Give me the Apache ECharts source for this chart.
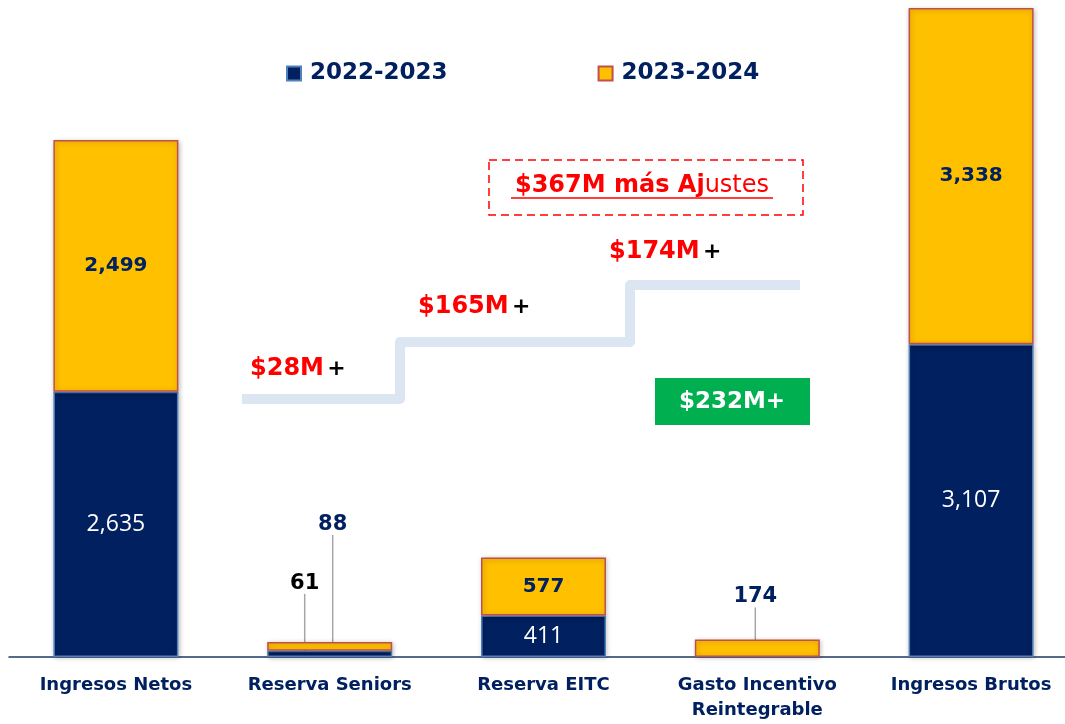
<!DOCTYPE html>
<html>
<head>
    <meta charset="utf-8"/>
    <title>Ingresos</title>
    <script src="https://cdn.jsdelivr.net/npm/echarts@6/dist/echarts.min.js"></script>
    <style>
        html, body { margin: 0; padding: 0; background: #fff; overflow: hidden; }
        /* el eje sigue un poco fuera de la ventana, como en la imagen original */
        #grafico { width: 1078px; height: 724px; }
    </style>
</head>
<body>
<div id="grafico"></div>
<script>
    // datos del grafico
    var categorias = ['Ingresos Netos', 'Reserva Seniors', 'Reserva EITC', 'Gasto Incentivo\nReintegrable', 'Ingresos Brutos'];
    var periodos = ['2022-2023', '2023-2024'];
    var valores2223 = [2635, 61, 411, null, 3107];
    var valores2324 = [2499, 88, 577, 174, 3338];
    // textos de los escalones
    var escalones = ['$28M', '$165M', '$174M'];
    var textoAjustes = ['$367M más Aj', 'ustes'];
    var textoVerde = '$232M+';

    var AZUL = '#002060';
    var AMARILLO = '#ffc000';
    var fuenteB = '"DejaVu Sans", sans-serif';

    function fmt(v) {
        return Number(v).toLocaleString('en-US');
    }

    // etiquetas que van fuera de la barra (serie-indice) -> desplazamiento
    var fuera = {
        '0-1': {dx: -25, dy: -53, color: '#000'},
        '1-1': {dx: 3, dy: -103, color: AZUL},
        '1-3': {dx: -2, dy: -28, color: AZUL}
    };

    function armarDatos(valores, serie) {
        return valores.map(function (v, i) {
            var f = fuera[serie + '-' + i];
            if (!f) return v;
            return {
                value: v,
                label: {
                    position: 'top', distance: 4, color: f.color,
                    fontFamily: fuenteB, fontWeight: 'bold', fontSize: 21
                },
                labelLine: {show: true, lineStyle: {color: '#a6a6a6', width: 1.5}}
            };
        });
    }

    var chart = echarts.init(document.getElementById('grafico'));

    var option = {
        animation: false,
        legend: {
            data: periodos,
            left: 281,
            top: 57,
            icon: 'rect',
            itemWidth: 14,
            itemHeight: 14,
            itemGap: 150,
            textStyle: {
                color: AZUL, fontFamily: fuenteB, fontWeight: 'bold', fontSize: 23,
                padding: [0, 0, 0, 4]
            }
        },
        grid: {left: 9, right: 0, top: 8, bottom: 67, containLabel: false},
        xAxis: {
            type: 'category',
            data: categorias,
            axisLine: {lineStyle: {color: '#1f3864', width: 1.5}},
            axisTick: {show: false},
            axisLabel: {
                color: AZUL, fontFamily: fuenteB, fontWeight: 'bold', fontSize: 18,
                lineHeight: 25, margin: 16, interval: 0
            }
        },
        yAxis: {
            type: 'value', min: 0, max: 6445, show: false,
            splitLine: {show: false}
        },
        series: [
            {
                name: periodos[0],
                type: 'bar',
                stack: 'total',
                barWidth: 125,
                data: armarDatos(valores2223, 0),
                itemStyle: {
                    color: AZUL, borderColor: '#4f81bd', borderWidth: 1.5,
                    shadowBlur: 5, shadowColor: 'rgba(0,0,0,0.25)', shadowOffsetX: 1, shadowOffsetY: 1
                },
                label: {
                    show: true, position: 'inside', color: '#fff',
                    fontFamily: '"Open Sans", sans-serif', fontSize: 23,
                    formatter: function (p) { return fmt(p.value); }
                },
                labelLayout: function (p) {
                    var f = fuera['0-' + p.dataIndex];
                    return f ? {dx: f.dx, dy: f.dy} : {};
                }
            },
            {
                name: periodos[1],
                type: 'bar',
                stack: 'total',
                barWidth: 125,
                data: armarDatos(valores2324, 1),
                itemStyle: {
                    color: AMARILLO, borderColor: '#c0504d', borderWidth: 1.5,
                    shadowBlur: 5, shadowColor: 'rgba(0,0,0,0.25)', shadowOffsetX: 1, shadowOffsetY: 1
                },
                label: {
                    show: true, position: 'inside', color: AZUL,
                    fontFamily: fuenteB, fontWeight: 'bold', fontSize: 20,
                    formatter: function (p) { return fmt(p.value); }
                },
                labelLayout: function (p) {
                    var f = fuera['1-' + p.dataIndex];
                    return f ? {dx: f.dx, dy: f.dy} : {};
                }
            }
        ],
        graphic: [
            // escalera
            {
                type: 'polyline',
                z: 1,
                shape: {points: [[242, 399], [400, 399], [400, 342], [630, 342], [630, 285], [800, 285]]},
                style: {stroke: '#dce6f2', lineWidth: 10, fill: null, lineJoin: 'round'}
            },
            {
                type: 'text', left: 250, top: 357,
                style: {
                    text: '{r|' + escalones[0] + '} {b|+}',
                    rich: {
                        r: {fill: '#ff0000', font: 'bold 24px ' + fuenteB},
                        b: {fill: '#000', font: 'bold 22px ' + fuenteB}
                    }
                }
            },
            {
                type: 'text', left: 418, top: 295,
                style: {
                    text: '{r|' + escalones[1] + '} {b|+}',
                    rich: {
                        r: {fill: '#ff0000', font: 'bold 24px ' + fuenteB},
                        b: {fill: '#000', font: 'bold 22px ' + fuenteB}
                    }
                }
            },
            {
                type: 'text', left: 609, top: 240,
                style: {
                    text: '{r|' + escalones[2] + '} {b|+}',
                    rich: {
                        r: {fill: '#ff0000', font: 'bold 24px ' + fuenteB},
                        b: {fill: '#000', font: 'bold 22px ' + fuenteB}
                    }
                }
            },
            // recuadro punteado
            {
                type: 'rect',
                shape: {x: 489, y: 160, width: 314, height: 55},
                style: {fill: null, stroke: '#ff0000', lineWidth: 1.5, lineDash: [8, 5]}
            },
            {
                type: 'text', x: 642, y: 186,
                style: {
                    text: '{a|' + textoAjustes[0] + '}{c|' + textoAjustes[1] + '}',
                    align: 'center', verticalAlign: 'middle',
                    rich: {
                        a: {fill: '#ff0000', font: 'bold 24px ' + fuenteB},
                        c: {fill: '#ff0000', font: 'normal 24px ' + fuenteB}
                    }
                }
            },
            {
                type: 'line',
                shape: {x1: 511, y1: 198, x2: 773, y2: 198},
                style: {stroke: '#ff0000', lineWidth: 1.5}
            },
            // recuadro verde
            {
                type: 'rect',
                shape: {x: 655, y: 378, width: 155, height: 47},
                style: {fill: '#00b050'}
            },
            {
                type: 'text', x: 732, y: 402,
                style: {
                    text: textoVerde, align: 'center', verticalAlign: 'middle',
                    fill: '#fff', font: 'bold 23px ' + fuenteB
                }
            }
        ]
    };

    chart.setOption(option);
</script>
</body>
</html>
